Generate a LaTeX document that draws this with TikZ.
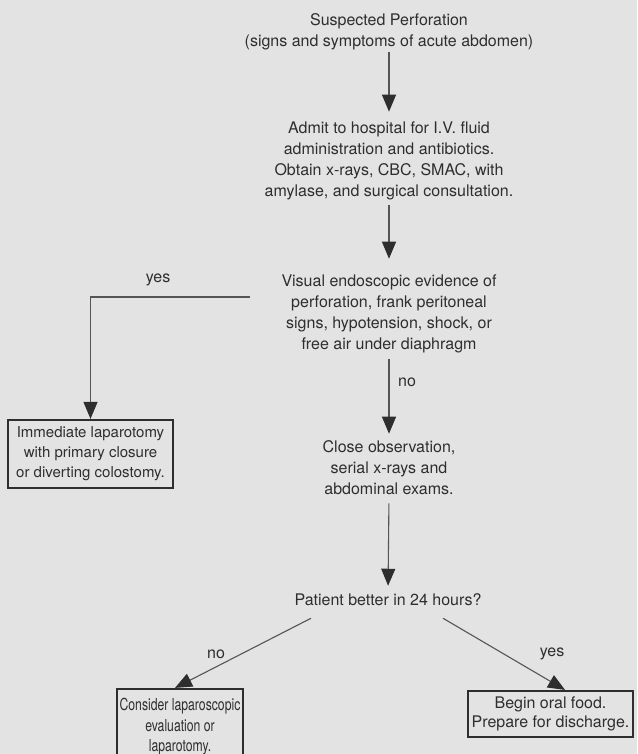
\documentclass[tikz,border=0pt]{standalone}
\usepackage{fontspec}
\setmainfont{TeX Gyre Heros}
\newfontfamily\condfont[FakeStretch=0.74]{TeX Gyre Heros}
\usetikzlibrary{arrows.meta}
\definecolor{bg}{HTML}{E3E3E3}
\definecolor{ink}{HTML}{2E2E2E}
\definecolor{wire}{HTML}{555555}
\begin{document}
\begin{tikzpicture}[x=1pt,y=-1pt,
  txt/.style={text=ink, align=center, inner sep=0pt, font=\fontsize{16}{21}\selectfont},
  boxnode/.style={draw=ink, line width=2.2pt, text=ink, align=center, inner sep=0pt},
  arr/.style={draw=wire, line width=1.1pt, -{Triangle[width=14pt,length=17pt,color=ink]}}]
\useasboundingbox[fill=bg] (0,0) rectangle (637,754);

\node[txt] (n1) at (389,31.75) {Suspected Perforation\\(signs and symptoms of acute abdomen)};
\node[txt] (n2) at (389,161) {Admit to hospital for I.V. fluid\\administration and antibiotics.\\Obtain x-rays, CBC, SMAC, with\\amylase, and surgical consultation.};
\node[txt] (n3) at (389,314) {Visual endoscopic evidence of\\perforation, frank peritoneal\\signs, hypotension, shock, or\\free air under diaphragm};
\node[txt] (n5) at (389,468) {Close observation,\\serial x-rays and\\abdominal exams.};
\node[txt] (n6) at (388,600) {Patient better in 24 hours?};

\node[boxnode, minimum width=165pt, minimum height=68pt, font=\fontsize{15}{20}\selectfont] (n4) at (90.5,454) {Immediate laparotomy\\with primary closure\\or diverting colostomy.};
\node[boxnode, minimum width=126pt, minimum height=76pt, font=\condfont\fontsize{16.5}{20.5}\selectfont] (n7) at (180,727) {Consider laparoscopic\\evaluation or\\laparotomy.};
\node[boxnode, minimum width=165pt, minimum height=46pt, font=\fontsize{16}{19}\selectfont] (n8) at (550.5,714) {Begin oral food.\\Prepare for discharge.};

\node[txt] (lyes1) at (158,280) {yes};
\node[txt] (lno1) at (407,382) {no};
\node[txt] (lno2) at (216,654) {no};
\node[txt] (lyes2) at (552,654) {yes};

\draw[arr, shorten <=2pt, shorten >=10pt] (n1.south) -- (n2.north);
\draw[arr, shorten <=5pt, shorten >=16pt] (n2.south) -- (n3.north);
\draw[arr, shorten <=6pt, shorten >=7pt] (n3.south) -- (n5.north);
\draw[arr, shorten <=8pt, shorten >=8pt] (n5.south) -- (n6.north);

\coordinate (ys) at (250,297);
\draw[arr] (ys) -- (ys -| n4.north) -- (n4.north);

\draw[arr] ([xshift=-77pt,yshift=-12pt]n6.south) -- ([xshift=-5pt]n7.north);
\draw[arr] ([xshift=55pt,yshift=-12pt]n6.south) -- ([xshift=14.5pt]n8.north);
\end{tikzpicture}
\end{document}
